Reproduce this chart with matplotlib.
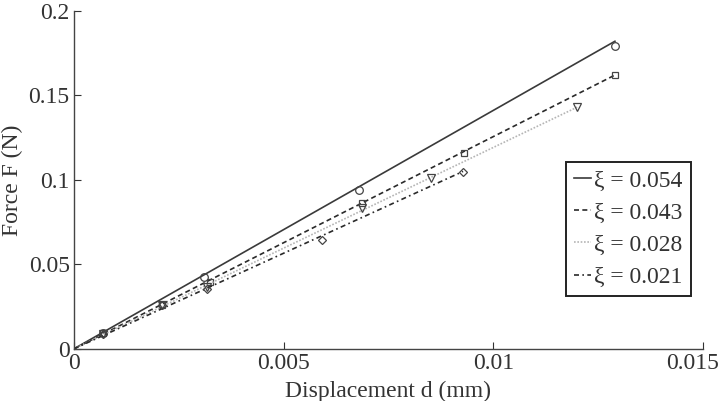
import matplotlib
matplotlib.use("Agg")
import matplotlib.pyplot as plt
from matplotlib.transforms import ScaledTranslation

plt.rcParams['font.family'] = ['Liberation Serif', 'DejaVu Serif']

labels = ['ξ = 0.054', 'ξ = 0.043', 'ξ = 0.028', 'ξ = 0.021']

# measured points
d_054 = [0.0007, 0.0031, 0.0068, 0.0129]
f_054 = [0.0092, 0.0423, 0.0941, 0.179]
d_043 = [0.0007, 0.0021, 0.00324, 0.00688, 0.00929, 0.0129]
f_043 = [0.0092, 0.0258, 0.0394, 0.0862, 0.1161, 0.1618]
d_028 = [0.0007, 0.0021, 0.00318, 0.00688, 0.00852, 0.0120]
f_028 = [0.0090, 0.0258, 0.0365, 0.0833, 0.1013, 0.1432]
d_021 = [0.0007, 0.0021, 0.00318, 0.00591, 0.00928]
f_021 = [0.0090, 0.0258, 0.0355, 0.0646, 0.1044]

# fitted lines (start, end)
fit_d = [[0, 0.0129], [0, 0.0129], [0, 0.0120], [0, 0.00928]]
fit_f = [[0, 0.182], [0, 0.162], [0, 0.143], [0, 0.105]]

points = [(d_054, f_054), (d_043, f_043), (d_028, f_028), (d_021, f_021)]
markers = ['o', 's', 'v', 'D']
marker_sizes = [5.5, 4.5, 5.5, 4.5]
line_styles = ['-', (0, (3, 2)), (0, (1, 1)), (0, (3, 2, 1, 2))]
line_colors = ['#3a3a3a', '#2a2a2a', '#b5b5b5', '#2a2a2a']

fig = plt.figure(figsize=(7.24, 4.01), dpi=100)
ax = fig.add_axes([0.102, 0.130, 0.869, 0.843])

handles = []
for i in range(4):
    h, = ax.plot(fit_d[i], fit_f[i], linestyle=line_styles[i], color=line_colors[i],
                 lw=1.2)
    handles.append(h)
    ax.plot(points[i][0], points[i][1], linestyle='none', marker=markers[i],
            ms=marker_sizes[i], mfc='none', mec='#444444', mew=0.9)

ax.set_xlim(0, 0.015)
ax.set_ylim(0, 0.2)
ax.set_xticks([0, 0.005, 0.01, 0.015])
ax.set_xticklabels(['0', '0.005', '0.01', '0.015'])
ax.set_yticks([0, 0.05, 0.1, 0.15, 0.2])
ax.set_yticklabels(['0', '0.05', '0.1', '0.15', '0.2'])
ax.tick_params(direction='in', length=5, width=0.8, labelsize=17, colors='#333333',
               pad=3)
ax.spines['top'].set_visible(False)
ax.spines['right'].set_visible(False)
for s in ['left', 'bottom']:
    ax.spines[s].set_color('#444444')
    ax.spines[s].set_linewidth(1.0)

# last x tick label sits on the figure edge; nudge it in so it is not clipped
last = ax.get_xticklabels()[-1]
last.set_transform(last.get_transform() + ScaledTranslation(-0.1, 0, fig.dpi_scale_trans))

ax.set_xlabel('Displacement d (mm)', fontsize=17, color='#333333', labelpad=5)
ax.set_ylabel('Force F (N)', fontsize=17, color='#333333', labelpad=4)

leg = ax.legend(handles, labels, loc='center left', bbox_to_anchor=(0.782, 0.355),
                fontsize=17, handlelength=0.7, handletextpad=0.15,
                borderpad=0.35, labelspacing=0.45, fancybox=False,
                framealpha=1, edgecolor='#222222', borderaxespad=0)
leg.get_frame().set_linewidth(1.4)
for t in leg.get_texts():
    t.set_color('#333333')

fig.savefig('out.png', dpi=100)
